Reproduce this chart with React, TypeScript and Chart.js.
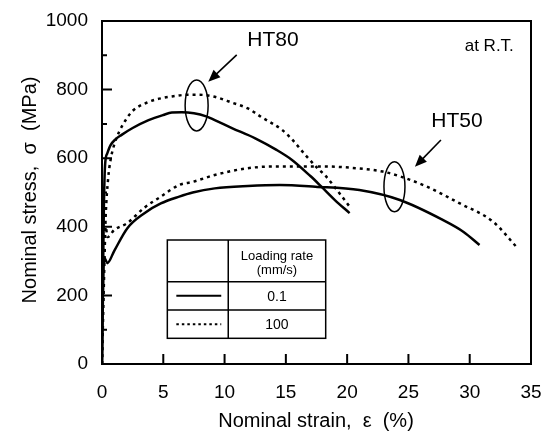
import React, { useEffect, useRef } from "react";
import { Chart, registerables } from "chart.js";

Chart.register(...registerables);

// ---- Data (strain %, nominal stress MPa) ----
const strainHT80Slow = [0, 0.15, 0.25, 0.43, 0.7, 1.1, 1.6, 2.5, 3.8, 5, 5.7, 6.5, 7.5, 8.5, 9.2, 10.6, 12.5, 14.2, 15.5, 17, 17.9, 19, 20.2];
const stressHT80Slow = [0, 450, 580, 614, 638, 655, 668, 688, 711, 726, 733, 734, 731, 722, 711, 688, 658, 625, 595, 548, 517, 478, 440];

const strainHT80Fast = [0, 0.2, 0.3, 0.5, 0.7, 1.0, 1.4, 2, 2.5, 3.8, 5, 5.7, 7, 7.9, 9.2, 10.6, 11.9, 13, 14.7, 15.5, 16.6, 17.6, 18.2, 19, 20.2];
const stressHT80Fast = [0, 300, 430, 540, 595, 640, 677, 715, 738, 764, 776, 780, 785, 785, 779, 762, 745, 720, 682, 655, 609, 570, 550, 515, 459];

const strainHT50Slow = [0, 0.1, 0.2, 0.43, 1, 2.07, 3.43, 4.8, 6.3, 7.4, 9.2, 11.9, 14.5, 17.4, 21, 24.3, 27.8, 29.5, 30.8];
const stressHT50Slow = [0, 250, 310, 294, 330, 396, 439, 468, 488, 500, 512, 519, 522, 517, 507, 478, 420, 385, 347];

const strainHT50Fast = [0, 0.1, 0.3, 0.45, 1.0, 2.07, 3.43, 4.8, 6.3, 7.4, 9.2, 11.9, 14.5, 18, 21, 22.9, 24.5, 26.5, 29.2, 31.9, 33.9];
const stressHT50Fast = [0, 250, 400, 370, 391, 411, 455, 488, 522, 531, 551, 571, 576, 576, 570, 561, 545, 517, 468, 415, 338];

const xTickValues = [0, 5, 10, 15, 20, 25, 30, 35];
const yTickValues = [0, 200, 400, 600, 800, 1000];

const xTitle = "Nominal strain,  \u03b5  (%)";
const yTitle = "Nominal stress,  \u03c3  (MPa)";
const legendHeader = ["Loading rate", "(mm/s)"];
const legendRates = ["0.1", "100"];

const FONT = '"Liberation Sans", Arial, Helvetica, sans-serif';

const toPts = (xs: number[], ys: number[]) => xs.map((x, i) => ({ x, y: ys[i] }));

const overlay = {
  id: "overlay",
  afterDatasetsDraw(chart: any) {
    const { ctx, chartArea: a, scales } = chart;
    const sx = scales.x;
    const sy = scales.y;
    const px = (v: number) => sx.getPixelForValue(v);
    const py = (v: number) => sy.getPixelForValue(v);
    ctx.save();
    ctx.strokeStyle = "#000";
    ctx.fillStyle = "#000";

    // frame
    ctx.lineWidth = 2;
    ctx.strokeRect(a.left, a.top, a.right - a.left, a.bottom - a.top);

    // inward ticks
    ctx.lineWidth = 2;
    ctx.beginPath();
    for (let v = 100; v < 1000; v += 100) {
      const len = v % 200 === 0 ? 10 : 5;
      const yy = py(v);
      ctx.moveTo(a.left, yy);
      ctx.lineTo(a.left + len, yy);
    }
    for (let v = 5; v < 35; v += 5) {
      const xx = px(v);
      ctx.moveTo(xx, a.bottom);
      ctx.lineTo(xx, a.bottom - 10);
    }
    ctx.stroke();

    // ellipses
    const ellipse = (cx: number, cy: number, rx: number, ry: number) => {
      ctx.beginPath();
      ctx.ellipse(px(cx), py(cy), rx, ry, 0, 0, Math.PI * 2);
      ctx.lineWidth = 1.5;
      ctx.stroke();
    };
    ellipse(7.72, 754, 11.5, 25.5);
    ellipse(23.86, 517, 10.5, 25);

    // arrows
    const arrow = (x1: number, y1: number, x2: number, y2: number) => {
      const ax = px(x1), ay = py(y1), bx = px(x2), by = py(y2);
      const ang = Math.atan2(by - ay, bx - ax);
      const hl = 12, hw = 5;
      ctx.lineWidth = 1.6;
      ctx.beginPath();
      ctx.moveTo(ax, ay);
      ctx.lineTo(bx - Math.cos(ang) * hl * 0.8, by - Math.sin(ang) * hl * 0.8);
      ctx.stroke();
      ctx.beginPath();
      ctx.moveTo(bx, by);
      ctx.lineTo(bx - Math.cos(ang) * hl - Math.sin(ang) * hw, by - Math.sin(ang) * hl + Math.cos(ang) * hw);
      ctx.lineTo(bx - Math.cos(ang) * hl + Math.sin(ang) * hw, by - Math.sin(ang) * hl - Math.cos(ang) * hw);
      ctx.closePath();
      ctx.fill();
    };
    arrow(10.99, 901, 8.67, 823);
    arrow(27.65, 653, 25.53, 575);

    // labels
    ctx.textBaseline = "middle";
    ctx.textAlign = "center";
    ctx.font = `21px ${FONT}`;
    ctx.fillText("HT80", px(13.95), py(943));
    ctx.fillText("HT50", px(28.96), py(708));
    ctx.textAlign = "right";
    ctx.font = `17px ${FONT}`;
    ctx.fillText("at R.T.", px(33.6), py(927));

    // legend table
    const L = px(5.33), R = px(18.25), T = py(361.5), B = py(74.9);
    const C = px(10.3), r1 = py(240), r2 = py(157.4);
    ctx.fillStyle = "#fff";
    ctx.fillRect(L, T, R - L, B - T);
    ctx.fillStyle = "#000";
    ctx.lineWidth = 1.5;
    ctx.strokeRect(L, T, R - L, B - T);
    ctx.beginPath();
    ctx.moveTo(C, T); ctx.lineTo(C, B);
    ctx.moveTo(L, r1); ctx.lineTo(R, r1);
    ctx.moveTo(L, r2); ctx.lineTo(R, r2);
    ctx.stroke();
    const mid = (C + R) / 2;
    ctx.textAlign = "center";
    ctx.font = `13px ${FONT}`;
    ctx.fillText(legendHeader[0], mid, T + 16);
    ctx.fillText(legendHeader[1], mid, T + 30);
    ctx.font = `14px ${FONT}`;
    ctx.fillText(legendRates[0], mid, (r1 + r2) / 2 + 1);
    ctx.fillText(legendRates[1], mid, (r2 + B) / 2 + 1);
    const l1 = L + 9, l2 = C - 7;
    ctx.lineWidth = 2;
    ctx.beginPath();
    ctx.moveTo(l1, (r1 + r2) / 2); ctx.lineTo(l2, (r1 + r2) / 2);
    ctx.stroke();
    ctx.setLineDash([2.5, 3]);
    ctx.beginPath();
    ctx.moveTo(l1, (r2 + B) / 2); ctx.lineTo(l2, (r2 + B) / 2);
    ctx.stroke();
    ctx.setLineDash([]);

    // axis titles
    ctx.font = `20px ${FONT}`;
    ctx.textAlign = "center";
    ctx.fillText(xTitle, 316, 421);
    ctx.translate(30, 190);
    ctx.rotate(-Math.PI / 2);
    ctx.fillText(yTitle, 0, 0);
    ctx.restore();
  },
};

const zeroPad = (s: any) => {
  s.paddingTop = 0;
  s.paddingBottom = 0;
  s.paddingLeft = 0;
  s.paddingRight = 0;
};

export default function App() {
  const ref = useRef<HTMLCanvasElement | null>(null);
  useEffect(() => {
    if (!ref.current) return;
    const solid = { borderColor: "#000", borderWidth: 2.5, pointRadius: 0, showLine: true, fill: false, cubicInterpolationMode: "monotone" as const };
    const dotted = { ...solid, borderWidth: 2.5, borderDash: [3, 4] };
    const chart = new Chart(ref.current, {
      type: "scatter",
      data: {
        datasets: [
          { label: "HT80 0.1", data: toPts(strainHT80Slow, stressHT80Slow), ...solid },
          { label: "HT80 100", data: toPts(strainHT80Fast, stressHT80Fast), ...dotted },
          { label: "HT50 0.1", data: toPts(strainHT50Slow, stressHT50Slow), ...solid },
          { label: "HT50 100", data: toPts(strainHT50Fast, stressHT50Fast), ...dotted },
        ],
      },
      options: {
        animation: false,
        responsive: true,
        maintainAspectRatio: false,
        layout: { padding: { left: 0, top: 21, right: 21, bottom: 0 } },
        plugins: { legend: { display: false }, tooltip: { enabled: false } },
        scales: {
          x: {
            type: "linear",
            min: 0,
            max: 35,
            grid: { display: false, drawTicks: false },
            border: { display: false },
            afterFit: (s: any) => { s.height = 67; zeroPad(s); },
            afterBuildTicks: (s: any) => { s.ticks = xTickValues.map((v) => ({ value: v })); },
            ticks: { color: "#000", font: { family: FONT, size: 19 }, padding: 17, maxRotation: 0, autoSkip: false, callback: (v: any) => String(v) },
          },
          y: {
            type: "linear",
            min: 0,
            max: 1000,
            grid: { display: false, drawTicks: false },
            border: { display: false },
            afterFit: (s: any) => { s.width = 102; zeroPad(s); },
            afterBuildTicks: (s: any) => { s.ticks = yTickValues.map((v) => ({ value: v })); },
            ticks: { color: "#000", font: { family: FONT, size: 19 }, padding: 14, autoSkip: false, callback: (v: any) => String(v) },
          },
        },
      },
      plugins: [overlay],
    });
    return () => chart.destroy();
  }, []);
  return (
    <div style={{ position: "fixed", left: 0, top: 0, width: 552, height: 431, background: "#fff" }}>
      <canvas ref={ref} />
    </div>
  );
}
